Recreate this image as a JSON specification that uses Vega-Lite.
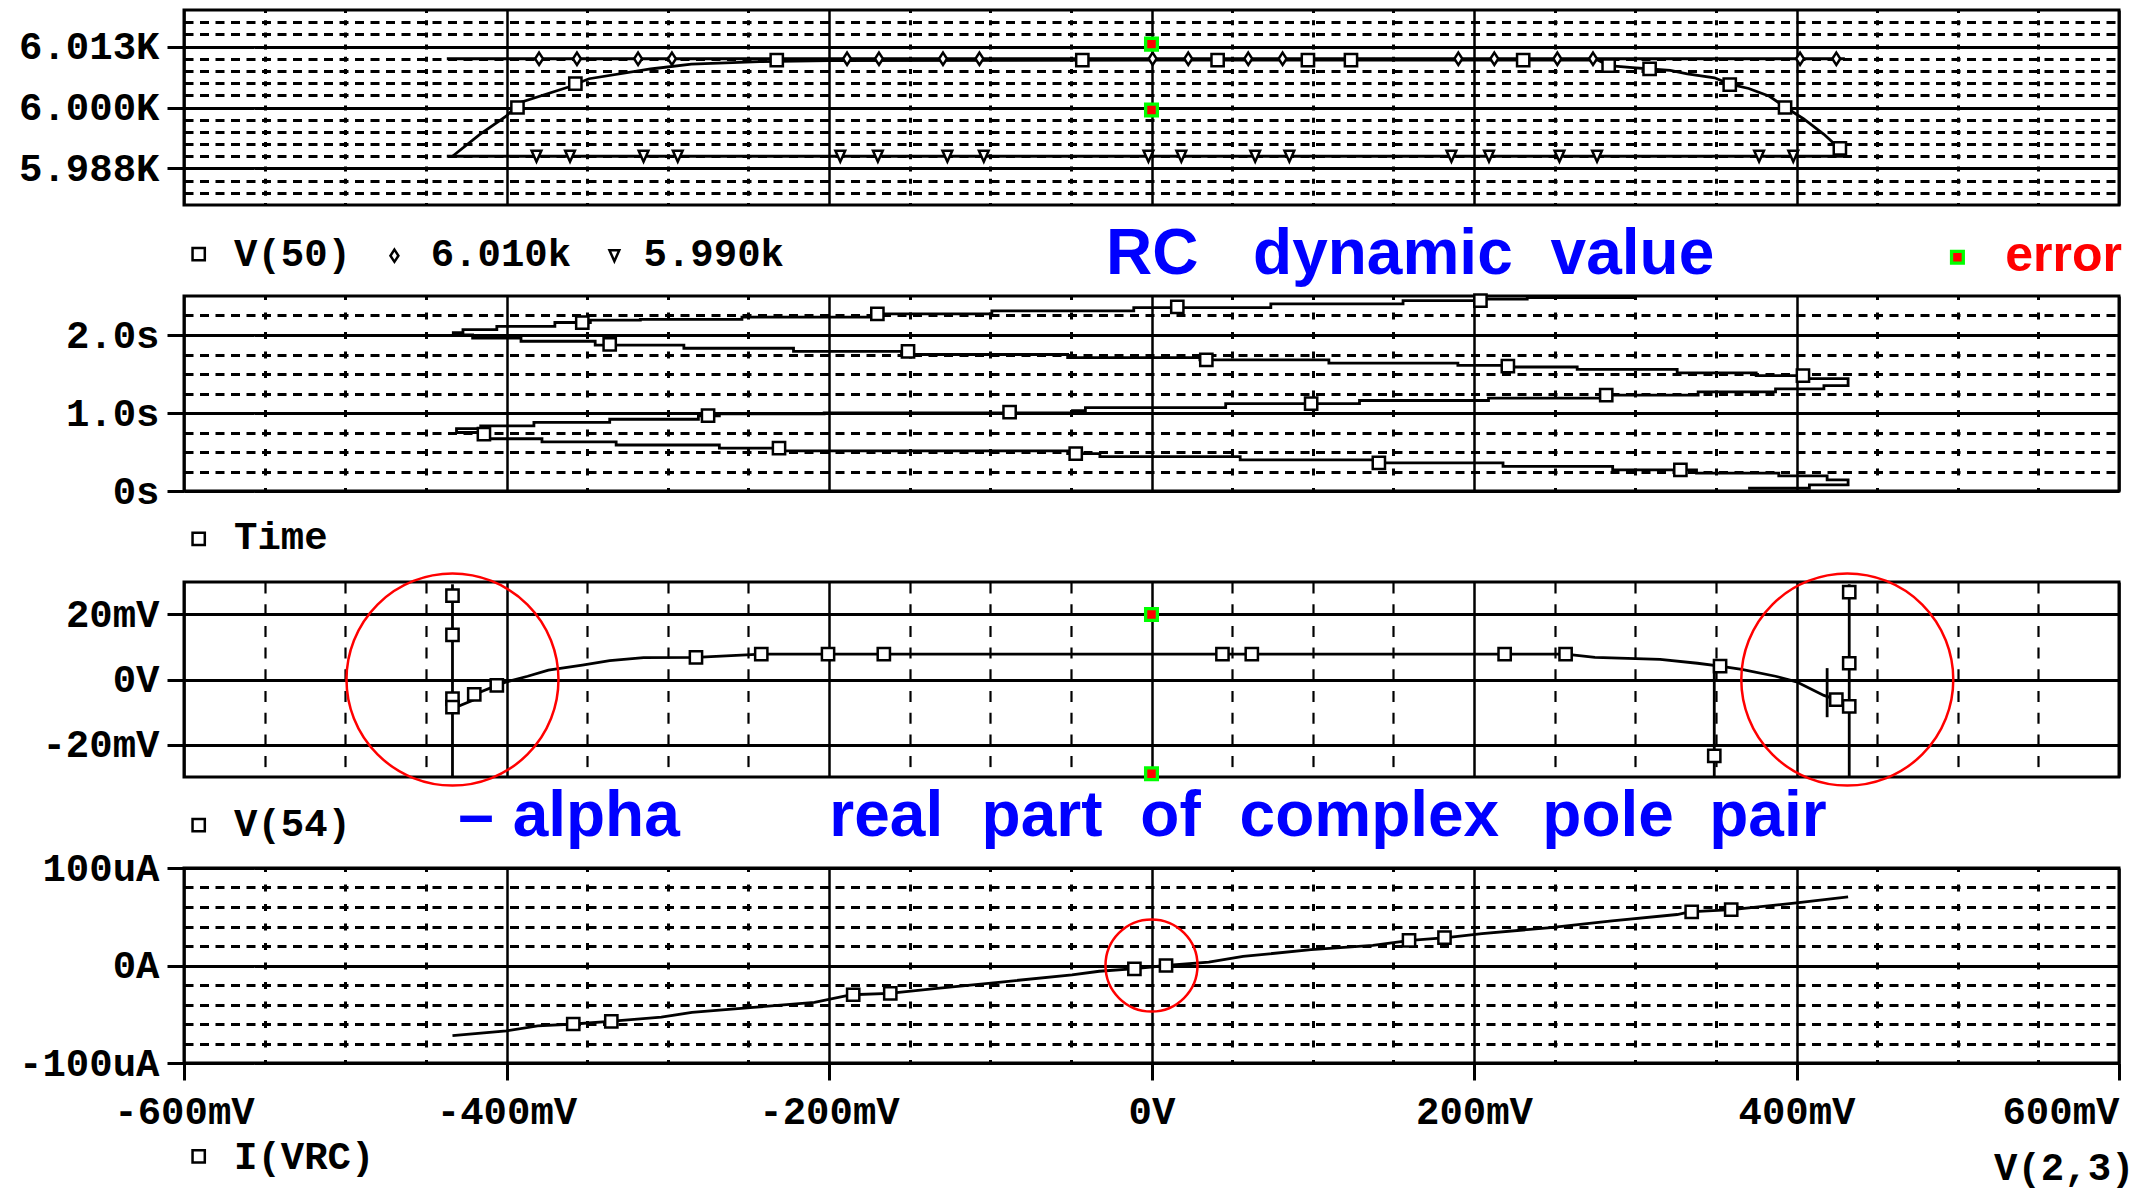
{
"$schema": "https://vega.github.io/schema/vega-lite/v6.json",
"background": "white",
"padding": {"left": 17, "top": 1, "right": 5, "bottom": 3},
"spacing": 91,
"bounds": "flush",
"resolve": {"scale": {"y": "independent"}},
"config": {
  "view": {"stroke": "black", "strokeWidth": 3, "fill": "white"},
  "axis": {"domain": false, "gridColor": "black", "gridOpacity": 1, "tickColor": "black", "labelColor": "black", "labelFont": "Liberation Mono", "labelFontWeight": "bold", "labelFontSize": 39, "titleColor": "black"}
},
"datasets": {
  "p1ln": [
    {"series": "V(50)", "i": 0, "x": -433.5, "y": 5990},
    {"series": "V(50)", "i": 1, "x": -416.5, "y": 5994.5},
    {"series": "V(50)", "i": 2, "x": -400, "y": 5998.3},
    {"series": "V(50)", "i": 3, "x": -391, "y": 6001.1},
    {"series": "V(50)", "i": 4, "x": -361.5, "y": 6004.2},
    {"series": "V(50)", "i": 5, "x": -348.8, "y": 6005.9},
    {"series": "V(50)", "i": 6, "x": -310.7, "y": 6007.9},
    {"series": "V(50)", "i": 7, "x": -285.3, "y": 6008.9},
    {"series": "V(50)", "i": 8, "x": -243, "y": 6009.4},
    {"series": "V(50)", "i": 9, "x": -200, "y": 6009.6},
    {"series": "V(50)", "i": 10, "x": 0, "y": 6009.7},
    {"series": "V(50)", "i": 11, "x": 277, "y": 6009.7},
    {"series": "V(50)", "i": 12, "x": 283.6, "y": 6008.6},
    {"series": "V(50)", "i": 13, "x": 298.4, "y": 6008.2},
    {"series": "V(50)", "i": 14, "x": 309, "y": 6007.9},
    {"series": "V(50)", "i": 15, "x": 321.7, "y": 6007.6},
    {"series": "V(50)", "i": 16, "x": 332.3, "y": 6006.9},
    {"series": "V(50)", "i": 17, "x": 349.2, "y": 6006.1},
    {"series": "V(50)", "i": 18, "x": 358.6, "y": 6004.8},
    {"series": "V(50)", "i": 19, "x": 370.4, "y": 6003.9},
    {"series": "V(50)", "i": 20, "x": 383.2, "y": 6002.3},
    {"series": "V(50)", "i": 21, "x": 392.9, "y": 6000.1},
    {"series": "V(50)", "i": 22, "x": 404.3, "y": 5997.7},
    {"series": "V(50)", "i": 23, "x": 417, "y": 5994.5},
    {"series": "V(50)", "i": 24, "x": 426.9, "y": 5991.5},
    {"series": "V(50)", "i": 25, "x": 429.8, "y": 5990},
    {"series": "6.010k", "i": 0, "x": -437, "y": 6010},
    {"series": "6.010k", "i": 1, "x": 430, "y": 6010},
    {"series": "5.990k", "i": 0, "x": -437, "y": 5990},
    {"series": "5.990k", "i": 1, "x": 430, "y": 5990}
  ],
  "p1mk": [
    {"series": "V(50)", "x": -393.2, "y": 6000},
    {"series": "V(50)", "x": -357.3, "y": 6004.9},
    {"series": "V(50)", "x": -232.4, "y": 6009.7},
    {"series": "V(50)", "x": -42.9, "y": 6009.7},
    {"series": "V(50)", "x": 41, "y": 6009.7},
    {"series": "V(50)", "x": 97, "y": 6009.7},
    {"series": "V(50)", "x": 123.7, "y": 6009.7},
    {"series": "V(50)", "x": 230.5, "y": 6009.7},
    {"series": "V(50)", "x": 283.5, "y": 6008.6},
    {"series": "V(50)", "x": 308.9, "y": 6007.9},
    {"series": "V(50)", "x": 358.6, "y": 6004.7},
    {"series": "V(50)", "x": 392.9, "y": 6000},
    {"series": "V(50)", "x": 426.9, "y": 5991.6},
    {"series": "6.010k", "x": -379.8, "y": 6010},
    {"series": "6.010k", "x": -356.3, "y": 6010},
    {"series": "6.010k", "x": -318.4, "y": 6010},
    {"series": "6.010k", "x": -297.4, "y": 6010},
    {"series": "6.010k", "x": -188.8, "y": 6010},
    {"series": "6.010k", "x": -169, "y": 6010},
    {"series": "6.010k", "x": -129.3, "y": 6010},
    {"series": "6.010k", "x": -106.7, "y": 6010},
    {"series": "6.010k", "x": 0.7, "y": 6010},
    {"series": "6.010k", "x": 22.8, "y": 6010},
    {"series": "6.010k", "x": 60, "y": 6010},
    {"series": "6.010k", "x": 81.3, "y": 6010},
    {"series": "6.010k", "x": 190.3, "y": 6010},
    {"series": "6.010k", "x": 212.6, "y": 6010},
    {"series": "6.010k", "x": 251.7, "y": 6010},
    {"series": "6.010k", "x": 273.8, "y": 6010},
    {"series": "6.010k", "x": 402.2, "y": 6010},
    {"series": "6.010k", "x": 424.7, "y": 6010},
    {"series": "5.990k", "x": -381.4, "y": 5990},
    {"series": "5.990k", "x": -360.6, "y": 5990},
    {"series": "5.990k", "x": -315, "y": 5990},
    {"series": "5.990k", "x": -293.8, "y": 5990},
    {"series": "5.990k", "x": -193, "y": 5990},
    {"series": "5.990k", "x": -169.7, "y": 5990},
    {"series": "5.990k", "x": -126.6, "y": 5990},
    {"series": "5.990k", "x": -104, "y": 5990},
    {"series": "5.990k", "x": -1.9, "y": 5990},
    {"series": "5.990k", "x": 18.5, "y": 5990},
    {"series": "5.990k", "x": 64.3, "y": 5990},
    {"series": "5.990k", "x": 85.5, "y": 5990},
    {"series": "5.990k", "x": 186, "y": 5990},
    {"series": "5.990k", "x": 209.3, "y": 5990},
    {"series": "5.990k", "x": 253, "y": 5990},
    {"series": "5.990k", "x": 276.3, "y": 5990},
    {"series": "5.990k", "x": 376.8, "y": 5990},
    {"series": "5.990k", "x": 398, "y": 5990}
  ],
  "p1err": [
    {"x": 0, "y": 6013},
    {"x": 0, "y": 5999.5},
    {"x": 499.8, "y": 5969.3}
  ],
  "p1sym": [
    {"series": "V(50)", "x": -590.9, "y": 5969.9},
    {"series": "6.010k", "x": -469.5, "y": 5969.6},
    {"series": "5.990k", "x": -333.1, "y": 5969.6}
  ],
  "p1txt": [
    {"t": "V(50)", "x": -569, "y": 5967.5},
    {"t": "6.010k", "x": -447, "y": 5967.5},
    {"t": "5.990k", "x": -315, "y": 5967.5}
  ],
  "p1blue": [
    {"t": "RC", "x": -28.2, "y": 5965.8},
    {"t": "dynamic", "x": 63, "y": 5965.8},
    {"t": "value", "x": 247.5, "y": 5965.8}
  ],
  "p1red": [
    {"t": "error", "x": 529.4, "y": 5966.5}
  ],
  "p2ln": [
    {"series": "Time", "i": 0, "x": 370, "y": 0.035},
    {"series": "Time", "i": 1, "x": 408, "y": 0.078},
    {"series": "Time", "i": 2, "x": 432, "y": 0.143},
    {"series": "Time", "i": 3, "x": 419, "y": 0.195},
    {"series": "Time", "i": 4, "x": 389, "y": 0.23},
    {"series": "Time", "i": 5, "x": 338, "y": 0.27},
    {"series": "Time", "i": 6, "x": 286, "y": 0.316},
    {"series": "Time", "i": 7, "x": 218, "y": 0.36},
    {"series": "Time", "i": 8, "x": 140, "y": 0.40},
    {"series": "Time", "i": 9, "x": 55, "y": 0.44},
    {"series": "Time", "i": 10, "x": -32, "y": 0.48},
    {"series": "Time", "i": 11, "x": -52, "y": 0.515},
    {"series": "Time", "i": 12, "x": -234, "y": 0.55},
    {"series": "Time", "i": 13, "x": -268, "y": 0.59},
    {"series": "Time", "i": 14, "x": -332, "y": 0.63},
    {"series": "Time", "i": 15, "x": -378, "y": 0.67},
    {"series": "Time", "i": 16, "x": -417, "y": 0.75},
    {"series": "Time", "i": 17, "x": -431, "y": 0.80},
    {"series": "Time", "i": 18, "x": -416, "y": 0.835},
    {"series": "Time", "i": 19, "x": -383, "y": 0.88},
    {"series": "Time", "i": 20, "x": -336, "y": 0.92},
    {"series": "Time", "i": 21, "x": -281, "y": 0.965},
    {"series": "Time", "i": 22, "x": -268, "y": 0.99},
    {"series": "Time", "i": 23, "x": -203, "y": 1.0},
    {"series": "Time", "i": 24, "x": -49, "y": 1.03},
    {"series": "Time", "i": 25, "x": -41, "y": 1.07},
    {"series": "Time", "i": 26, "x": 46, "y": 1.12},
    {"series": "Time", "i": 27, "x": 129, "y": 1.16},
    {"series": "Time", "i": 28, "x": 209, "y": 1.19},
    {"series": "Time", "i": 29, "x": 280, "y": 1.23},
    {"series": "Time", "i": 30, "x": 339, "y": 1.27},
    {"series": "Time", "i": 31, "x": 387, "y": 1.31},
    {"series": "Time", "i": 32, "x": 417, "y": 1.35},
    {"series": "Time", "i": 33, "x": 432, "y": 1.44},
    {"series": "Time", "i": 34, "x": 404, "y": 1.48},
    {"series": "Time", "i": 35, "x": 375, "y": 1.515},
    {"series": "Time", "i": 36, "x": 326, "y": 1.56},
    {"series": "Time", "i": 37, "x": 264, "y": 1.59},
    {"series": "Time", "i": 38, "x": 222, "y": 1.61},
    {"series": "Time", "i": 39, "x": 190, "y": 1.64},
    {"series": "Time", "i": 40, "x": 110, "y": 1.68},
    {"series": "Time", "i": 41, "x": 30, "y": 1.71},
    {"series": "Time", "i": 42, "x": -52, "y": 1.75},
    {"series": "Time", "i": 43, "x": -155, "y": 1.79},
    {"series": "Time", "i": 44, "x": -222, "y": 1.83},
    {"series": "Time", "i": 45, "x": -290, "y": 1.87},
    {"series": "Time", "i": 46, "x": -345, "y": 1.92},
    {"series": "Time", "i": 47, "x": -391, "y": 1.96},
    {"series": "Time", "i": 48, "x": -421, "y": 2.0},
    {"series": "Time", "i": 49, "x": -433, "y": 2.03},
    {"series": "Time", "i": 50, "x": -427, "y": 2.07},
    {"series": "Time", "i": 51, "x": -406, "y": 2.11},
    {"series": "Time", "i": 52, "x": -370, "y": 2.16},
    {"series": "Time", "i": 53, "x": -348, "y": 2.19},
    {"series": "Time", "i": 54, "x": -317, "y": 2.20},
    {"series": "Time", "i": 55, "x": -254, "y": 2.23},
    {"series": "Time", "i": 56, "x": -170, "y": 2.27},
    {"series": "Time", "i": 57, "x": -99, "y": 2.31},
    {"series": "Time", "i": 58, "x": -11, "y": 2.35},
    {"series": "Time", "i": 59, "x": 74, "y": 2.40},
    {"series": "Time", "i": 60, "x": 156, "y": 2.44},
    {"series": "Time", "i": 61, "x": 203, "y": 2.46},
    {"series": "Time", "i": 62, "x": 233, "y": 2.48},
    {"series": "Time", "i": 63, "x": 300, "y": 2.48}
  ],
  "p2mk": [
    {"series": "Time", "x": 328, "y": 0.27},
    {"series": "Time", "x": 141, "y": 0.36},
    {"series": "Time", "x": -47, "y": 0.48},
    {"series": "Time", "x": -231, "y": 0.55},
    {"series": "Time", "x": -414, "y": 0.73},
    {"series": "Time", "x": -275, "y": 0.965},
    {"series": "Time", "x": -88, "y": 1.01},
    {"series": "Time", "x": 99, "y": 1.12},
    {"series": "Time", "x": 282, "y": 1.23},
    {"series": "Time", "x": 404, "y": 1.48},
    {"series": "Time", "x": 221, "y": 1.6},
    {"series": "Time", "x": 34, "y": 1.68},
    {"series": "Time", "x": -151, "y": 1.79},
    {"series": "Time", "x": -336, "y": 1.88},
    {"series": "Time", "x": -353, "y": 2.16},
    {"series": "Time", "x": -170, "y": 2.27},
    {"series": "Time", "x": 16, "y": 2.36},
    {"series": "Time", "x": 204, "y": 2.44}
  ],
  "p2sym": [{"series": "Time", "x": -590.9, "y": -0.615}],
  "p2txt": [{"t": "Time", "x": -569, "y": -0.744}],
  "p3ln": [
    {"seg": "main", "i": 0, "x": -433.5, "y": -10},
    {"seg": "main", "i": 1, "x": -431.3, "y": -8.5},
    {"seg": "main", "i": 2, "x": -420.8, "y": -6.4},
    {"seg": "main", "i": 3, "x": -420, "y": -4.6},
    {"seg": "main", "i": 4, "x": -406, "y": -1.8},
    {"seg": "main", "i": 5, "x": -399.7, "y": -0.7},
    {"seg": "main", "i": 6, "x": -386.9, "y": 1.0},
    {"seg": "main", "i": 7, "x": -374, "y": 2.9},
    {"seg": "main", "i": 8, "x": -353, "y": 4.4},
    {"seg": "main", "i": 9, "x": -336, "y": 5.8},
    {"seg": "main", "i": 10, "x": -315, "y": 6.7},
    {"seg": "main", "i": 11, "x": -282.5, "y": 6.8},
    {"seg": "main", "i": 12, "x": -242, "y": 7.8},
    {"seg": "main", "i": 13, "x": 256.8, "y": 7.8},
    {"seg": "main", "i": 14, "x": 275, "y": 6.8},
    {"seg": "main", "i": 15, "x": 315.4, "y": 6.2},
    {"seg": "main", "i": 16, "x": 338.6, "y": 5.0},
    {"seg": "main", "i": 17, "x": 352.6, "y": 4.1},
    {"seg": "main", "i": 18, "x": 366, "y": 3.1},
    {"seg": "main", "i": 19, "x": 387, "y": 1.0},
    {"seg": "main", "i": 20, "x": 400, "y": -0.7},
    {"seg": "main", "i": 21, "x": 417, "y": -4.9},
    {"seg": "main", "i": 22, "x": 424.7, "y": -6.2},
    {"seg": "main", "i": 23, "x": 432.7, "y": -8.3},
    {"seg": "spikeL", "i": 0, "x": -433.5, "y": 29.3},
    {"seg": "spikeL", "i": 1, "x": -433.5, "y": -30},
    {"seg": "spikeR", "i": 0, "x": 432.7, "y": 29.3},
    {"seg": "spikeR", "i": 1, "x": 432.7, "y": -30},
    {"seg": "spikeM", "i": 0, "x": 349, "y": 4.5},
    {"seg": "spikeM", "i": 1, "x": 349, "y": -30},
    {"seg": "tick", "i": 0, "x": 419, "y": 3.5},
    {"seg": "tick", "i": 1, "x": 419, "y": -11.6}
  ],
  "p3mk": [
    {"series": "V(54)", "x": -433.5, "y": 25.8},
    {"series": "V(54)", "x": -433.5, "y": 13.7},
    {"series": "V(54)", "x": -433.5, "y": -5.9},
    {"series": "V(54)", "x": -433.5, "y": -8.5},
    {"series": "V(54)", "x": -420, "y": -4.6},
    {"series": "V(54)", "x": -406, "y": -1.8},
    {"series": "V(54)", "x": -282.5, "y": 6.8},
    {"series": "V(54)", "x": -242, "y": 7.8},
    {"series": "V(54)", "x": -200.6, "y": 7.8},
    {"series": "V(54)", "x": -166, "y": 7.8},
    {"series": "V(54)", "x": 44, "y": 7.8},
    {"series": "V(54)", "x": 62.2, "y": 7.8},
    {"series": "V(54)", "x": 219, "y": 7.8},
    {"series": "V(54)", "x": 256.8, "y": 7.8},
    {"series": "V(54)", "x": 352.6, "y": 4.1},
    {"series": "V(54)", "x": 349, "y": -23.5},
    {"series": "V(54)", "x": 424.7, "y": -6.2},
    {"series": "V(54)", "x": 432.7, "y": 26.9},
    {"series": "V(54)", "x": 432.7, "y": 5.0},
    {"series": "V(54)", "x": 432.7, "y": -8.3}
  ],
  "p3err": [{"x": 0, "y": 20}, {"x": 0, "y": -29}],
  "p3circ": [{"x": -433.5, "y": 0}, {"x": 431.5, "y": 0}],
  "p3sym": [{"series": "V(54)", "x": -590.9, "y": -44.8}],
  "p3txt": [{"t": "V(54)", "x": -569, "y": -48.05}],
  "p3blue": [
    {"t": "–", "x": -430, "y": -48.05},
    {"t": "alpha", "x": -396.2, "y": -48.05},
    {"t": "real", "x": -199.8, "y": -48.05},
    {"t": "part", "x": -105.4, "y": -48.05},
    {"t": "of", "x": -6.9, "y": -48.05},
    {"t": "complex", "x": 54.6, "y": -48.05},
    {"t": "pole", "x": 242.4, "y": -48.05},
    {"t": "pair", "x": 345.9, "y": -48.05}
  ],
  "p4ln": [
    {"series": "I(VRC)", "i": 0, "x": -433.5, "y": -72},
    {"series": "I(VRC)", "i": 1, "x": -400, "y": -67},
    {"series": "I(VRC)", "i": 2, "x": -380.6, "y": -62},
    {"series": "I(VRC)", "i": 3, "x": -358, "y": -60},
    {"series": "I(VRC)", "i": 4, "x": -336, "y": -57.4},
    {"series": "I(VRC)", "i": 5, "x": -304, "y": -53},
    {"series": "I(VRC)", "i": 6, "x": -285, "y": -48},
    {"series": "I(VRC)", "i": 7, "x": -247, "y": -43},
    {"series": "I(VRC)", "i": 8, "x": -209, "y": -37.8},
    {"series": "I(VRC)", "i": 9, "x": -186, "y": -30},
    {"series": "I(VRC)", "i": 10, "x": -162.6, "y": -28.5},
    {"series": "I(VRC)", "i": 11, "x": -133, "y": -23.4},
    {"series": "I(VRC)", "i": 12, "x": -94.8, "y": -17.2},
    {"series": "I(VRC)", "i": 13, "x": -49.3, "y": -9.6},
    {"series": "I(VRC)", "i": 14, "x": -32.4, "y": -5.9},
    {"series": "I(VRC)", "i": 15, "x": -12, "y": -3.4},
    {"series": "I(VRC)", "i": 16, "x": 9.2, "y": 0},
    {"series": "I(VRC)", "i": 17, "x": 35.5, "y": 3.4},
    {"series": "I(VRC)", "i": 18, "x": 56.8, "y": 9.3},
    {"series": "I(VRC)", "i": 19, "x": 99, "y": 16.2},
    {"series": "I(VRC)", "i": 20, "x": 137.3, "y": 20.6},
    {"series": "I(VRC)", "i": 21, "x": 160.6, "y": 25.8},
    {"series": "I(VRC)", "i": 22, "x": 183, "y": 28.5},
    {"series": "I(VRC)", "i": 23, "x": 205, "y": 32.7},
    {"series": "I(VRC)", "i": 24, "x": 247.5, "y": 38.9},
    {"series": "I(VRC)", "i": 25, "x": 285.6, "y": 45.7},
    {"series": "I(VRC)", "i": 26, "x": 326, "y": 52.3},
    {"series": "I(VRC)", "i": 27, "x": 333.6, "y": 55},
    {"series": "I(VRC)", "i": 28, "x": 359.9, "y": 57.4},
    {"series": "I(VRC)", "i": 29, "x": 400, "y": 64.2},
    {"series": "I(VRC)", "i": 30, "x": 432, "y": 70.4}
  ],
  "p4mk": [
    {"series": "I(VRC)", "x": -358.6, "y": -60},
    {"series": "I(VRC)", "x": -335, "y": -57.4},
    {"series": "I(VRC)", "x": -185, "y": -30},
    {"series": "I(VRC)", "x": -162, "y": -28.5},
    {"series": "I(VRC)", "x": -10.6, "y": -3.4},
    {"series": "I(VRC)", "x": 9, "y": 0},
    {"series": "I(VRC)", "x": 159.7, "y": 25.8},
    {"series": "I(VRC)", "x": 181.7, "y": 28.5},
    {"series": "I(VRC)", "x": 335, "y": 55},
    {"series": "I(VRC)", "x": 359.5, "y": 57.4}
  ],
  "p4circ": [{"x": 0, "y": 0}],
  "p4sym": [{"series": "I(VRC)", "x": -590.9, "y": -195.7}],
  "p4txt": [{"t": "I(VRC)", "x": -569, "y": -209}]
},
"vconcat": [
  {
    "width": 1935, "height": 195,
    "encoding": {
      "x": {"field": "x", "type": "quantitative", "scale": {"domain": [-600, 600], "nice": false, "zero": false},
        "axis": {"values": [-600,-550,-500,-450,-400,-350,-300,-250,-200,-150,-100,-50,0,50,100,150,200,250,300,350,400,450,500,550,600],
          "labels": false, "ticks": false, "title": null, "grid": true,
          "gridDash": {"condition": {"test": "datum.value % 200 === 0", "value": [1, 0]}, "value": [5, 7.19]},
          "gridDashOffset": 2.5,
          "gridWidth": {"condition": {"test": "datum.value % 200 === 0", "value": 2.5}, "value": 3}}},
      "y": {"field": "y", "type": "quantitative", "scale": {"domain": [5980, 6020], "nice": false, "zero": false},
        "axis": {"values": [5982.5,5985,5987.5,5990,5992.5,5995,5997.5,6000,6002.5,6005,6007.5,6010,6012.5,6015,6017.5],
          "title": null, "grid": true,
          "gridDash": {"condition": {"test": "abs(datum.value - 6000) % 12.5 === 0", "value": [1, 0]}, "value": [9, 6.5]},
          "gridWidth": 3,
          "tickColor": {"condition": {"test": "abs(datum.value - 6000) % 12.5 === 0", "value": "black"}, "value": "transparent"},
          "tickSize": 17, "tickWidth": 3, "labelPadding": 8, "labelFlush": false, "labelOverlap": false, "labelBaseline": "middle",
          "labelExpr": "datum.value === 6012.5 ? '6.013K' : datum.value === 6000 ? '6.000K' : datum.value === 5987.5 ? '5.988K' : ''"}}
    },
    "layer": [
      {"data": {"name": "p1ln"}, "mark": {"type": "line", "color": "black", "strokeWidth": 2.8}, "encoding": {"detail": {"field": "series"}, "order": {"field": "i"}}},
      {"data": {"name": "p1mk"}, "mark": {"type": "point", "filled": true, "fill": "white", "stroke": "black", "strokeWidth": 2.5, "size": 150, "opacity": 1},
        "encoding": {"shape": {"field": "series", "type": "nominal", "legend": null, "scale": {"domain": ["V(50)","6.010k","5.990k","Time","V(54)","I(VRC)"], "range": ["square","M0,-1L0.65,0L0,1L-0.65,0Z","M-0.8,-0.9L0.8,-0.9L0,0.9Z","square","square","square"]}}}},
      {"data": {"name": "p1err"}, "mark": {"type": "point", "shape": "square", "filled": true, "fill": "#ff0000", "stroke": "#00ff00", "strokeWidth": 3.3, "size": 138, "opacity": 1}},
      {"data": {"name": "p1sym"}, "mark": {"type": "point", "filled": true, "fill": "white", "stroke": "black", "strokeWidth": 2.5, "size": 150, "opacity": 1},
        "encoding": {"shape": {"field": "series", "type": "nominal", "legend": null, "scale": {"domain": ["V(50)","6.010k","5.990k","Time","V(54)","I(VRC)"], "range": ["square","M0,-1L0.65,0L0,1L-0.65,0Z","M-0.8,-0.9L0.8,-0.9L0,0.9Z","square","square","square"]}}}},
      {"data": {"name": "p1txt"}, "mark": {"type": "text", "align": "left", "baseline": "alphabetic", "font": "Liberation Mono", "fontWeight": "bold", "fontSize": 39, "color": "black"}, "encoding": {"text": {"field": "t"}}},
      {"data": {"name": "p1blue"}, "mark": {"type": "text", "align": "left", "baseline": "alphabetic", "font": "Liberation Sans", "fontWeight": "bold", "fontSize": 64, "color": "#0000ff"}, "encoding": {"text": {"field": "t"}}},
      {"data": {"name": "p1red"}, "mark": {"type": "text", "align": "left", "baseline": "alphabetic", "font": "Liberation Sans", "fontWeight": "bold", "fontSize": 50, "color": "#ff0000"}, "encoding": {"text": {"field": "t"}}}
    ]
  },
  {
    "width": 1935, "height": 195,
    "encoding": {
      "x": {"field": "x", "type": "quantitative", "scale": {"domain": [-600, 600], "nice": false, "zero": false},
        "axis": {"values": [-600,-550,-500,-450,-400,-350,-300,-250,-200,-150,-100,-50,0,50,100,150,200,250,300,350,400,450,500,550,600],
          "labels": false, "ticks": false, "title": null, "grid": true,
          "gridDash": {"condition": {"test": "datum.value % 200 === 0", "value": [1, 0]}, "value": [7, 12.5]},
          "gridDashOffset": 3.5,
          "gridWidth": {"condition": {"test": "datum.value % 200 === 0", "value": 2.5}, "value": 3}}},
      "y": {"field": "y", "type": "quantitative", "scale": {"domain": [0, 2.5], "nice": false, "zero": false},
        "axis": {"values": [0,0.25,0.5,0.75,1,1.25,1.5,1.75,2,2.25],
          "title": null, "grid": true,
          "gridDash": {"condition": {"test": "datum.value % 1 === 0", "value": [1, 0]}, "value": [9, 6.5]},
          "gridWidth": 3,
          "tickColor": {"condition": {"test": "datum.value % 1 === 0", "value": "black"}, "value": "transparent"},
          "tickSize": 17, "tickWidth": 3, "labelPadding": 8, "labelFlush": false, "labelOverlap": false, "labelBaseline": "middle",
          "labelExpr": "datum.value === 0 ? '0s' : datum.value === 1 ? '1.0s' : datum.value === 2 ? '2.0s' : ''"}}
    },
    "layer": [
      {"data": {"name": "p2ln"}, "mark": {"type": "line", "color": "black", "strokeWidth": 2.8, "interpolate": "step-after"}, "encoding": {"detail": {"field": "series"}, "order": {"field": "i"}}},
      {"data": {"name": "p2mk"}, "mark": {"type": "point", "filled": true, "fill": "white", "stroke": "black", "strokeWidth": 2.5, "size": 150, "opacity": 1},
        "encoding": {"shape": {"field": "series", "type": "nominal", "legend": null, "scale": {"domain": ["V(50)","6.010k","5.990k","Time","V(54)","I(VRC)"], "range": ["square","M0,-1L0.65,0L0,1L-0.65,0Z","M-0.8,-0.9L0.8,-0.9L0,0.9Z","square","square","square"]}}}},
      {"data": {"name": "p2sym"}, "mark": {"type": "point", "filled": true, "fill": "white", "stroke": "black", "strokeWidth": 2.5, "size": 150, "opacity": 1},
        "encoding": {"shape": {"field": "series", "type": "nominal", "legend": null, "scale": {"domain": ["V(50)","6.010k","5.990k","Time","V(54)","I(VRC)"], "range": ["square","M0,-1L0.65,0L0,1L-0.65,0Z","M-0.8,-0.9L0.8,-0.9L0,0.9Z","square","square","square"]}}}},
      {"data": {"name": "p2txt"}, "mark": {"type": "text", "align": "left", "baseline": "alphabetic", "font": "Liberation Mono", "fontWeight": "bold", "fontSize": 39, "color": "black"}, "encoding": {"text": {"field": "t"}}}
    ]
  },
  {
    "width": 1935, "height": 195,
    "encoding": {
      "x": {"field": "x", "type": "quantitative", "scale": {"domain": [-600, 600], "nice": false, "zero": false},
        "axis": {"values": [-600,-550,-500,-450,-400,-350,-300,-250,-200,-150,-100,-50,0,50,100,150,200,250,300,350,400,450,500,550,600],
          "labels": false, "ticks": false, "title": null, "grid": true,
          "gridDash": {"condition": {"test": "datum.value % 200 === 0", "value": [1, 0]}, "value": [11, 10.7]},
          "gridWidth": {"condition": {"test": "datum.value % 200 === 0", "value": 2.5}, "value": 2.2}}},
      "y": {"field": "y", "type": "quantitative", "scale": {"domain": [-30, 30], "nice": false, "zero": false},
        "axis": {"values": [-20, 0, 20],
          "title": null, "grid": true, "gridWidth": 3,
          "tickSize": 17, "tickWidth": 3, "labelPadding": 8, "labelFlush": false, "labelOverlap": false, "labelBaseline": "middle",
          "labelExpr": "datum.value === 0 ? '0V' : datum.value + 'mV'"}}
    },
    "layer": [
      {"data": {"name": "p3ln"}, "mark": {"type": "line", "color": "black", "strokeWidth": 2.8}, "encoding": {"detail": {"field": "seg"}, "order": {"field": "i"}}},
      {"data": {"name": "p3mk"}, "mark": {"type": "point", "filled": true, "fill": "white", "stroke": "black", "strokeWidth": 2.5, "size": 150, "opacity": 1},
        "encoding": {"shape": {"field": "series", "type": "nominal", "legend": null, "scale": {"domain": ["V(50)","6.010k","5.990k","Time","V(54)","I(VRC)"], "range": ["square","M0,-1L0.65,0L0,1L-0.65,0Z","M-0.8,-0.9L0.8,-0.9L0,0.9Z","square","square","square"]}}}},
      {"data": {"name": "p3err"}, "mark": {"type": "point", "shape": "square", "filled": true, "fill": "#ff0000", "stroke": "#00ff00", "strokeWidth": 3.3, "size": 138, "opacity": 1}},
      {"data": {"name": "p3circ"}, "mark": {"type": "point", "shape": "circle", "filled": false, "stroke": "#ff0000", "strokeWidth": 2.5, "size": 44944, "opacity": 1}},
      {"data": {"name": "p3sym"}, "mark": {"type": "point", "filled": true, "fill": "white", "stroke": "black", "strokeWidth": 2.5, "size": 150, "opacity": 1},
        "encoding": {"shape": {"field": "series", "type": "nominal", "legend": null, "scale": {"domain": ["V(50)","6.010k","5.990k","Time","V(54)","I(VRC)"], "range": ["square","M0,-1L0.65,0L0,1L-0.65,0Z","M-0.8,-0.9L0.8,-0.9L0,0.9Z","square","square","square"]}}}},
      {"data": {"name": "p3txt"}, "mark": {"type": "text", "align": "left", "baseline": "alphabetic", "font": "Liberation Mono", "fontWeight": "bold", "fontSize": 39, "color": "black"}, "encoding": {"text": {"field": "t"}}},
      {"data": {"name": "p3blue"}, "mark": {"type": "text", "align": "left", "baseline": "alphabetic", "font": "Liberation Sans", "fontWeight": "bold", "fontSize": 64, "color": "#0000ff"}, "encoding": {"text": {"field": "t"}}}
    ]
  },
  {
    "width": 1935, "height": 195,
    "encoding": {
      "x": {"field": "x", "type": "quantitative", "scale": {"domain": [-600, 600], "nice": false, "zero": false},
        "axis": {"values": [-600,-550,-500,-450,-400,-350,-300,-250,-200,-150,-100,-50,0,50,100,150,200,250,300,350,400,450,500,550,600],
          "grid": true,
          "gridDash": {"condition": {"test": "datum.value % 200 === 0", "value": [1, 0]}, "value": [7, 12.5]},
          "gridDashOffset": 3.5,
          "gridWidth": {"condition": {"test": "datum.value % 200 === 0", "value": 2.5}, "value": 3},
          "ticks": true, "tickSize": 17, "tickWidth": 3,
          "tickColor": {"condition": {"test": "datum.value % 200 === 0", "value": "black"}, "value": "transparent"},
          "labelExpr": "datum.value % 200 === 0 ? (datum.value === 0 ? '0V' : datum.value + 'mV') : ''",
          "labelAlign": {"condition": {"test": "datum.value === 600", "value": "right"}, "value": "center"},
          "labelFlush": false, "labelOverlap": false, "labelPadding": 12, "labelBaseline": "top",
          "title": "V(2,3)", "titleFont": "Liberation Mono", "titleFontWeight": "bold", "titleFontSize": 39,
          "titleAnchor": "end", "titleAlign": "right", "titleBaseline": "alphabetic", "titleX": 1950, "titleY": 116}},
      "y": {"field": "y", "type": "quantitative", "scale": {"domain": [-100, 100], "nice": false, "zero": false},
        "axis": {"values": [-100,-80,-60,-40,-20,0,20,40,60,80,100],
          "title": null, "grid": true,
          "gridDash": {"condition": {"test": "datum.value % 100 === 0", "value": [1, 0]}, "value": [9, 6.5]},
          "gridWidth": 3,
          "tickColor": {"condition": {"test": "datum.value % 100 === 0", "value": "black"}, "value": "transparent"},
          "tickSize": 17, "tickWidth": 3, "labelPadding": 8, "labelFlush": false, "labelOverlap": false, "labelBaseline": "middle",
          "labelExpr": "datum.value % 100 === 0 ? (datum.value === 0 ? '0A' : datum.value + 'uA') : ''"}}
    },
    "layer": [
      {"data": {"name": "p4ln"}, "mark": {"type": "line", "color": "black", "strokeWidth": 2.8}, "encoding": {"detail": {"field": "series"}, "order": {"field": "i"}}},
      {"data": {"name": "p4mk"}, "mark": {"type": "point", "filled": true, "fill": "white", "stroke": "black", "strokeWidth": 2.5, "size": 150, "opacity": 1},
        "encoding": {"shape": {"field": "series", "type": "nominal", "legend": null, "scale": {"domain": ["V(50)","6.010k","5.990k","Time","V(54)","I(VRC)"], "range": ["square","M0,-1L0.65,0L0,1L-0.65,0Z","M-0.8,-0.9L0.8,-0.9L0,0.9Z","square","square","square"]}}}},
      {"data": {"name": "p4circ"}, "mark": {"type": "point", "shape": "circle", "filled": false, "stroke": "#ff0000", "strokeWidth": 2.5, "size": 8464, "opacity": 1}},
      {"data": {"name": "p4sym"}, "mark": {"type": "point", "filled": true, "fill": "white", "stroke": "black", "strokeWidth": 2.5, "size": 150, "opacity": 1},
        "encoding": {"shape": {"field": "series", "type": "nominal", "legend": null, "scale": {"domain": ["V(50)","6.010k","5.990k","Time","V(54)","I(VRC)"], "range": ["square","M0,-1L0.65,0L0,1L-0.65,0Z","M-0.8,-0.9L0.8,-0.9L0,0.9Z","square","square","square"]}}}},
      {"data": {"name": "p4txt"}, "mark": {"type": "text", "align": "left", "baseline": "alphabetic", "font": "Liberation Mono", "fontWeight": "bold", "fontSize": 39, "color": "black"}, "encoding": {"text": {"field": "t"}}}
    ]
  }
]
}
